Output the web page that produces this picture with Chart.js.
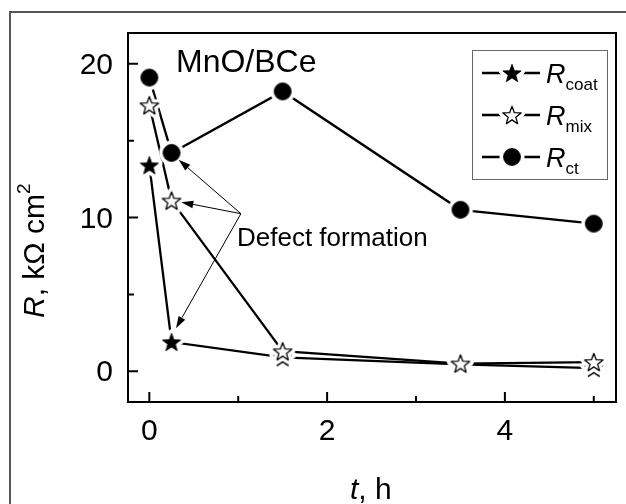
<!DOCTYPE html>
<html>
<head>
    <title>MnO/BCe resistance vs time</title>
    <script src="https://cdn.jsdelivr.net/npm/chart.js"></script>
    <style>
        body { margin: 0; background: #fff; }
    </style>
</head>
<body>
    <canvas id="chart" width="626" height="504"></canvas>

    <script>
        // Data
        const hours = [0, 0.25, 1.5, 3.5, 5];
        const rCoat = [13.4, 1.9, 0.9, 0.45, 0.2];
        const rMix = [17.3, 11.1, 1.3, 0.5, 0.6];
        const rCt = [19.1, 14.2, 18.2, 10.5, 9.6];

        const xTicks = [0, 2, 4];
        const xMinorTicks = [1, 3, 5];
        const yTicks = [0, 10, 20];
        const yMinorTicks = [5, 15];

        const FONT = '"Liberation Sans", Arial, sans-serif';

        // Marker images (with a white halo so lines stop short of the symbol)
        function starPath(g, cx, cy, ro, ri) {
            g.beginPath();
            for (let i = 0; i < 10; i++) {
                const r = i % 2 === 0 ? ro : ri;
                const a = -Math.PI / 2 + i * Math.PI / 5;
                const px = cx + r * Math.cos(a);
                const py = cy + r * Math.sin(a);
                if (i === 0) g.moveTo(px, py); else g.lineTo(px, py);
            }
            g.closePath();
        }

        function makeMarker(kind) {
            const size = 32;
            const c = document.createElement('canvas');
            c.width = size;
            c.height = size;
            const g = c.getContext('2d');
            const cx = size / 2, cy = size / 2;
            if (kind === 'circle') {
                g.beginPath();
                g.arc(cx, cy, 8.5, 0, Math.PI * 2);
            } else {
                starPath(g, cx, cy + 0.9, 9.6, 4.0);
            }
            g.lineJoin = 'round';
            g.strokeStyle = '#fff';
            g.lineWidth = 8;
            g.stroke();
            g.fillStyle = kind === 'openStar' ? '#fff' : '#000';
            g.fill();
            g.strokeStyle = '#000';
            g.lineWidth = kind === 'openStar' ? 1.3 : 0.8;
            g.stroke();
            return c;
        }

        const markers = {
            coat: makeMarker('star'),
            mix: makeMarker('openStar'),
            ct: makeMarker('circle')
        };

        function points(ys) {
            return hours.map((h, i) => ({ x: h, y: ys[i] }));
        }

        function lineSet(ys) {
            return {
                data: points(ys),
                borderColor: '#000',
                borderWidth: 2.3,
                pointRadius: 0,
                fill: false,
                tension: 0,
                order: 10
            };
        }

        function markerSet(ys, img, order) {
            return {
                data: points(ys),
                showLine: false,
                pointStyle: img,
                pointRadius: 9,
                order: order
            };
        }

        // Annotation: "Defect formation" arrows (data coordinates)
        const arrowFrom = { x: 1.03, y: 10.25 };
        const arrowTargets = [
            { x: 0.33, y: 13.75 },
            { x: 0.36, y: 11.0 },
            { x: 0.30, y: 2.8 }
        ];

        function drawRich(ctx, parts, x, y) {
            // parts: [text, font, dy]
            let cx = x;
            parts.forEach(p => {
                ctx.font = p[1];
                ctx.fillText(p[0], cx, y + (p[2] || 0));
                cx += ctx.measureText(p[0]).width;
            });
        }

        function arrow(ctx, x1, y1, x2, y2) {
            const ang = Math.atan2(y2 - y1, x2 - x1);
            const len = 12, half = 3.8;
            const bx = x2 - len * Math.cos(ang);
            const by = y2 - len * Math.sin(ang);
            ctx.beginPath();
            ctx.moveTo(x1, y1);
            ctx.lineTo(bx, by);
            ctx.lineWidth = 1;
            ctx.stroke();
            ctx.beginPath();
            ctx.moveTo(x2, y2);
            ctx.lineTo(bx + half * Math.sin(ang), by - half * Math.cos(ang));
            ctx.lineTo(bx - half * Math.sin(ang), by + half * Math.cos(ang));
            ctx.closePath();
            ctx.fill();
        }

        const decor = {
            id: 'decor',
            beforeDraw(chart) {
                const ctx = chart.ctx;
                ctx.save();
                ctx.fillStyle = '#fff';
                ctx.fillRect(0, 0, chart.width, chart.height);
                // outer figure frame
                ctx.strokeStyle = '#555';
                ctx.lineWidth = 2;
                ctx.beginPath();
                ctx.moveTo(10, 520);
                ctx.lineTo(10, 12);
                ctx.lineTo(640, 12);
                ctx.stroke();
                ctx.restore();
            },
            afterDraw(chart) {
                const ctx = chart.ctx;
                const a = chart.chartArea;
                const xs = chart.scales.x, ys = chart.scales.y;
                ctx.save();
                ctx.fillStyle = '#000';
                ctx.strokeStyle = '#000';

                // plot frame
                ctx.lineWidth = 2;
                ctx.strokeRect(a.left, a.top, a.right - a.left, a.bottom - a.top);

                // inward ticks
                ctx.beginPath();
                xTicks.forEach(v => { const p = xs.getPixelForValue(v); ctx.moveTo(p, a.bottom); ctx.lineTo(p, a.bottom - 10); });
                xMinorTicks.forEach(v => { const p = xs.getPixelForValue(v); ctx.moveTo(p, a.bottom); ctx.lineTo(p, a.bottom - 6); });
                yTicks.forEach(v => { const p = ys.getPixelForValue(v); ctx.moveTo(a.left, p); ctx.lineTo(a.left + 10, p); });
                yMinorTicks.forEach(v => { const p = ys.getPixelForValue(v); ctx.moveTo(a.left, p); ctx.lineTo(a.left + 6, p); });
                ctx.stroke();

                // tick labels
                ctx.font = '30px ' + FONT;
                ctx.textAlign = 'center';
                ctx.textBaseline = 'alphabetic';
                xTicks.forEach(v => ctx.fillText(String(v), xs.getPixelForValue(v), 440));
                ctx.textAlign = 'right';
                yTicks.forEach(v => ctx.fillText(String(v), 113, ys.getPixelForValue(v) + 10));

                // axis titles
                ctx.textAlign = 'left';
                drawRich(ctx, [['t', 'italic 30px ' + FONT], [', h', '30px ' + FONT]], 350, 499);
                ctx.save();
                ctx.translate(44, 318);
                ctx.rotate(-Math.PI / 2);
                drawRich(ctx, [['R', 'italic 30px ' + FONT], [', k\u03A9 cm', '30px ' + FONT], ['2', '19px ' + FONT, -14]], 0, 0);
                ctx.restore();

                // sample label
                ctx.font = '32px ' + FONT;
                ctx.fillText('MnO/BCe', 176, 72);

                // annotation
                ctx.font = '26px ' + FONT;
                ctx.fillText('Defect formation', 237, 246);
                const fx = xs.getPixelForValue(arrowFrom.x), fy = ys.getPixelForValue(arrowFrom.y);
                ctx.fillStyle = '#000';
                arrowTargets.forEach(t => arrow(ctx, fx, fy, xs.getPixelForValue(t.x), ys.getPixelForValue(t.y)));

                // legend
                ctx.strokeStyle = '#666';
                ctx.lineWidth = 1;
                ctx.strokeRect(472.5, 50.5, 135, 129);
                const entries = [
                    { img: markers.coat, sub: 'coat', y: 73 },
                    { img: markers.mix, sub: 'mix', y: 115 },
                    { img: markers.ct, sub: 'ct', y: 157 }
                ];
                entries.forEach(e => {
                    ctx.strokeStyle = '#000';
                    ctx.lineWidth = 2.3;
                    ctx.beginPath();
                    ctx.moveTo(482, e.y);
                    ctx.lineTo(540, e.y);
                    ctx.stroke();
                    ctx.drawImage(e.img, 512 - e.img.width / 2, e.y - e.img.height / 2);
                    ctx.fillStyle = '#000';
                    drawRich(ctx, [['R', 'italic 27px ' + FONT], [e.sub, '17px ' + FONT, 7]], 546, e.y + 10);
                });

                ctx.restore();
            }
        };

        new Chart(document.getElementById('chart'), {
            type: 'line',
            data: {
                datasets: [
                    lineSet(rCoat),
                    lineSet(rMix),
                    lineSet(rCt),
                    markerSet(rCt, markers.ct, 3),
                    markerSet(rCoat, markers.coat, 2),
                    markerSet(rMix, markers.mix, 1)
                ]
            },
            options: {
                responsive: false,
                animation: false,
                layout: { padding: { left: 128, right: 7, top: 33, bottom: 102 } },
                plugins: { legend: { display: false }, tooltip: { enabled: false } },
                scales: {
                    x: { type: 'linear', min: -0.24, max: 5.25, display: false },
                    y: { type: 'linear', min: -2, max: 22, display: false }
                }
            },
            plugins: [decor]
        });
    </script>
</body>
</html>
